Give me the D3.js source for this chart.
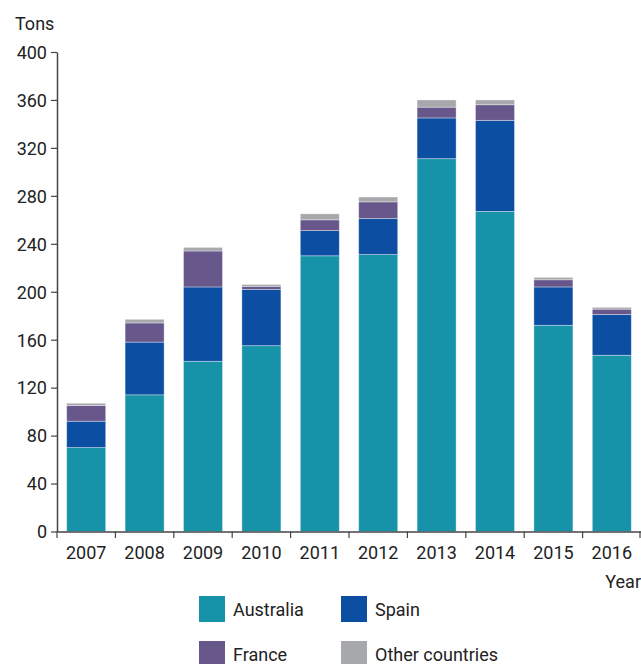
<!DOCTYPE html>
<html>
<head>
<meta charset="utf-8">
<script src="https://cdn.jsdelivr.net/npm/d3@7"></script>
<style>
  html, body { margin: 0; padding: 0; background: #fff; }
  svg { display: block; }
  text { font-family: Roboto, "Liberation Sans", sans-serif; fill: #222; }
</style>
</head>
<body>
<svg id="chart" width="641" height="664"></svg>
<script>
const years = ["2007","2008","2009","2010","2011","2012","2013","2014","2015","2016"];
const seriesNames = ["Australia","Spain","France","Other countries"];
const australia = [70, 114, 142, 155, 230, 231, 311, 267, 172, 147];
const spain     = [22, 44, 62, 47, 21, 30, 34, 76, 32, 34];
const france    = [13, 16, 30, 2.5, 9, 14, 9, 13, 6, 4.5];
const other     = [2, 3, 3, 1.5, 5, 4, 6, 4, 2, 1.5];
const yTicks = [0, 40, 80, 120, 160, 200, 240, 280, 320, 360, 400];
const colors = ["#1693a8", "#0b4ea2", "#67578a", "#a7a8ac"];

const rows = years.map((y, i) => ({
  year: y, "Australia": australia[i], "Spain": spain[i], "France": france[i], "Other countries": other[i]
}));
const stacked = d3.stack().keys(seriesNames)(rows);

const svg = d3.select("#chart");
const mLeft = 57, mRight = 641, mTop = 52, mBottom = 531.5;

const x = d3.scaleBand().domain(years).range([mLeft, mRight]).paddingInner(0).paddingOuter(0);
const y = d3.scaleLinear().domain([0, 400]).range([mBottom, mTop]);
const color = d3.scaleOrdinal().domain(seriesNames).range(colors);
const barW = x.bandwidth() * 0.668;
const barOff = (x.bandwidth() - barW) / 2;

// bars
svg.append("g").selectAll("g").data(stacked).join("g")
  .attr("fill", d => color(d.key))
  .selectAll("rect").data(d => d).join("rect")
  .attr("x", d => x(d.data.year) + barOff)
  .attr("width", barW)
  .attr("y", d => y(d[1]))
  .attr("height", d => y(d[0]) - y(d[1]))
  .attr("stroke", "#ffffff")
  .attr("stroke-opacity", 0.45)
  .attr("stroke-width", 0.8);

// y axis
const yAxis = svg.append("g").attr("transform", `translate(${mLeft},0)`)
  .call(d3.axisLeft(y).tickValues(yTicks).tickSize(6).tickPadding(4).tickSizeOuter(0));
yAxis.select(".domain").attr("stroke", "#444").attr("stroke-width", 1.5);
yAxis.selectAll(".tick line").attr("stroke", "#444").attr("stroke-width", 1.2);
yAxis.selectAll(".tick text").style("font-size", "18px").attr("fill", "#222").attr("dy", "0.35em");

// x axis (labels centered, ticks at band boundaries)
const xAxis = svg.append("g").attr("transform", `translate(0,${mBottom})`)
  .call(d3.axisBottom(x).tickSize(0).tickPadding(15).tickSizeOuter(0));
xAxis.select(".domain").attr("stroke", "#444").attr("stroke-width", 1.5);
xAxis.selectAll(".tick text").style("font-size", "18px").attr("fill", "#222");
const bounds = years.map(d => x(d)).concat([x(years[years.length - 1]) + x.bandwidth()]);
xAxis.selectAll("line.bnd").data(bounds).join("line").attr("class", "bnd")
  .attr("x1", d => Math.min(d, mRight - 1)).attr("x2", d => Math.min(d, mRight - 1))
  .attr("y1", 0).attr("y2", 6.5)
  .attr("stroke", "#444").attr("stroke-width", 1.2);

// axis titles
svg.append("text").attr("x", 15).attr("y", 30).style("font-size", "18px").text("Tons");
svg.append("text").attr("x", 641).attr("y", 588).attr("text-anchor", "end").style("font-size", "18px").text("Year");

// legend
const legendPos = [[199, 596], [341, 596], [199, 641], [341, 641]];
const lg = svg.append("g").selectAll("g").data(seriesNames).join("g")
  .attr("transform", (d, i) => `translate(${legendPos[i][0]},${legendPos[i][1]})`);
lg.append("rect").attr("width", 26).attr("height", 26).attr("fill", d => color(d));
lg.append("text").attr("x", 34).attr("y", 19.5).style("font-size", "18px").text(d => d);
</script>
</body>
</html>
